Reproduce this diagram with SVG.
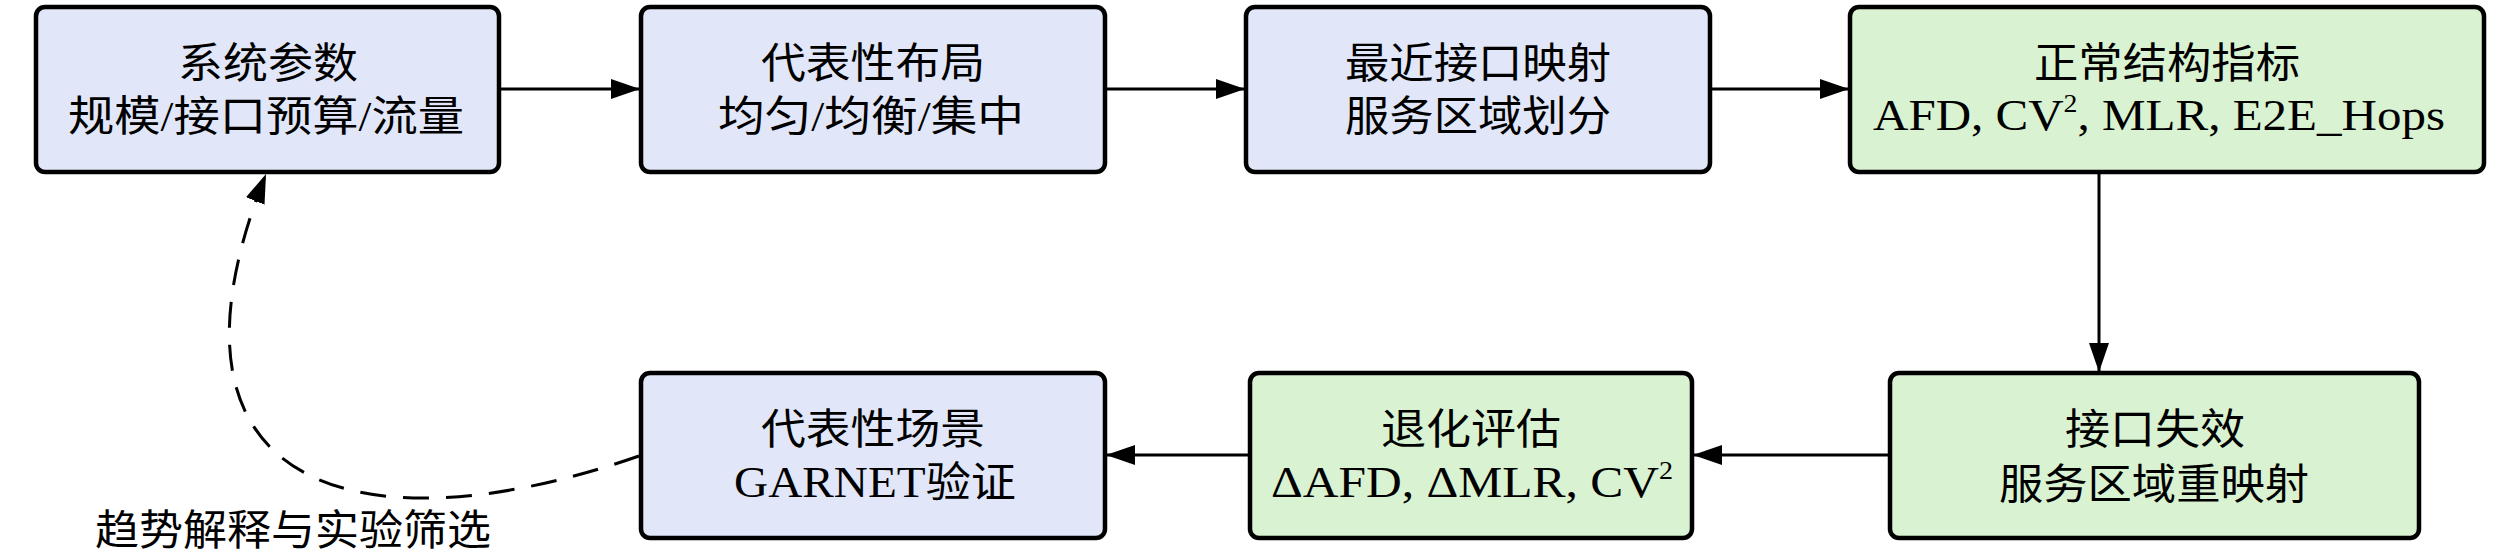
<svg xmlns="http://www.w3.org/2000/svg" width="2520" height="556" viewBox="0 0 2520 556">
<defs>
<marker id="ah" markerUnits="userSpaceOnUse" markerWidth="30" markerHeight="22" refX="29" refY="10" orient="auto">
<path d="M0,0 L29,10 L0,20 Z" fill="#000" stroke="none"/>
</marker>
<style>
.box{stroke:#000;stroke-width:4.5}
.blue{fill:#E1E7F9}
.green{fill:#D9F2D1}
.cjk{font-family:"Liberation Serif","Noto Sans CJK SC",serif;font-size:42px;fill:#000;text-anchor:middle}
.lat{font-family:"Liberation Serif","Noto Sans CJK SC",serif;font-size:44px;fill:#000;text-anchor:middle}
.sup{font-size:25px}
.edge{fill:none;stroke:#000;stroke-width:3;marker-end:url(#ah)}
.dash{stroke-dasharray:26 17}
</style>
</defs>
<rect width="2520" height="556" fill="#fff"/>
<g id="n1">
<rect class="box blue" x="36" y="7" width="463" height="165" rx="9"/>
<text class="cjk" x="268" y="78" textLength="180" lengthAdjust="spacingAndGlyphs">系统参数</text>
<text class="cjk" x="266" y="131" textLength="396" lengthAdjust="spacingAndGlyphs">规模/接口预算/流量</text>
</g>
<g id="n2">
<rect class="box blue" x="641" y="7" width="464" height="165" rx="9"/>
<text class="cjk" x="873" y="78" textLength="224" lengthAdjust="spacingAndGlyphs">代表性布局</text>
<text class="cjk" x="871" y="131" textLength="306" lengthAdjust="spacingAndGlyphs">均匀/均衡/集中</text>
</g>
<g id="n3">
<rect class="box blue" x="1246" y="7" width="464" height="165" rx="9"/>
<text class="cjk" x="1478" y="78" textLength="266" lengthAdjust="spacingAndGlyphs">最近接口映射</text>
<text class="cjk" x="1478" y="131" textLength="266" lengthAdjust="spacingAndGlyphs">服务区域划分</text>
</g>
<g id="n4">
<rect class="box green" x="1850" y="7" width="634" height="165" rx="9"/>
<text class="cjk" x="2167" y="78" textLength="266" lengthAdjust="spacingAndGlyphs">正常结构指标</text>
<text class="lat" x="2159" y="130" textLength="572" lengthAdjust="spacingAndGlyphs">AFD, CV<tspan class="sup" dy="-18">2</tspan><tspan dy="18">, MLR, E2E_Hops</tspan></text>
</g>
<g id="n5">
<rect class="box green" x="1890" y="373" width="529" height="165" rx="9"/>
<text class="cjk" x="2155" y="444" textLength="180" lengthAdjust="spacingAndGlyphs">接口失效</text>
<text class="cjk" x="2154" y="499" textLength="310" lengthAdjust="spacingAndGlyphs">服务区域重映射</text>
</g>
<g id="n6">
<rect class="box green" x="1250" y="373" width="442" height="165" rx="9"/>
<text class="cjk" x="1471" y="444" textLength="180" lengthAdjust="spacingAndGlyphs">退化评估</text>
<text class="lat" x="1472" y="497" textLength="402" lengthAdjust="spacingAndGlyphs">ΔAFD, ΔMLR, CV<tspan class="sup" dy="-18">2</tspan></text>
</g>
<g id="n7">
<rect class="box blue" x="641" y="373" width="464" height="165" rx="9"/>
<text class="cjk" x="873" y="444" textLength="224" lengthAdjust="spacingAndGlyphs">代表性场景</text>
<text class="lat" x="875" y="497" textLength="282" lengthAdjust="spacingAndGlyphs">GARNET<tspan font-size="42">验证</tspan></text>
</g>
<g id="label">
<text class="cjk" x="293" y="545" textLength="396" lengthAdjust="spacingAndGlyphs">趋势解释与实验筛选</text>
</g>
<g id="connectors">
<line class="edge" x1="499" y1="89" x2="640" y2="89"/>
<line class="edge" x1="1105" y1="89" x2="1245" y2="89"/>
<line class="edge" x1="1710" y1="89" x2="1849" y2="89"/>
<line class="edge" x1="2099" y1="172" x2="2099" y2="372"/>
<line class="edge" x1="1890" y1="455" x2="1693" y2="455"/>
<line class="edge" x1="1250" y1="455" x2="1106" y2="455"/>
<path class="edge dash" d="M639,456 C357,554 140,489 266,174"/>
</g>
</svg>
